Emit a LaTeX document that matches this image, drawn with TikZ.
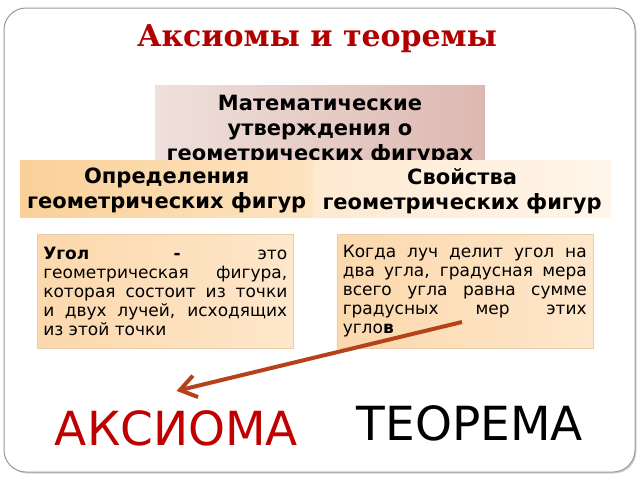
\documentclass[tikz,border=0pt]{standalone}
\usepackage{fontspec}
\setmainfont{DejaVu Sans}
\newfontfamily\titlefont{DejaVu Serif}
\usepackage{xcolor}
\definecolor{titlered}{RGB}{178,0,0}
\definecolor{wordred}{RGB}{192,0,0}
\definecolor{roselight}{RGB}{239,224,219}
\definecolor{rosedark}{RGB}{221,184,177}
\definecolor{peachdark}{RGB}{250,208,152}
\definecolor{peachlight}{RGB}{253,228,194}
\definecolor{creamdark}{RGB}{254,233,209}
\definecolor{creamlight}{RGB}{255,245,234}
\definecolor{notedark}{RGB}{252,216,172}
\definecolor{notelight}{RGB}{254,231,203}
\definecolor{noteedge}{RGB}{232,205,170}
\definecolor{raybrown}{RGB}{181,66,26}
\usetikzlibrary{positioning,arrows.meta,shadows}
\hyphenpenalty=10000

\begin{document}
\begin{tikzpicture}[x=1pt,y=-1pt,
	slide/.style={draw=black!40, line width=1pt, rounded corners=22pt, fill=white,
		drop shadow={opacity=0.35, shadow xshift=1.5pt, shadow yshift=-1.5pt}},
	headbox/.style={rectangle, inner xsep=2pt, align=center,
		font=\bfseries\fontsize{21}{25}\selectfont},
	notebox/.style={rectangle, draw=noteedge, line width=0.5pt,
		left color=notedark, right color=notelight,
		minimum width=256pt, minimum height=114pt, text width=244pt, inner xsep=6pt,
		align=justify, font=\fontsize{17}{19}\selectfont},
	bigword/.style={inner sep=2pt, font=\fontsize{47}{56}\selectfont},
	rayarrow/.style={draw=raybrown, line width=4pt,
		-{Straight Barb[length=16pt,width=22pt]}}
	]
	\useasboundingbox (0,0) rectangle (640,480);
	\path[slide] (4,8) rectangle (635,472);

	\node[anchor=base, text=titlered, font=\titlefont\bfseries\fontsize{30}{35}\selectfont]
		(title) at (317,46) {Аксиомы и теоремы};

	% general statement box, partly hidden by the two boxes below
	\node[headbox, anchor=north, inner ysep=10pt, text width=326pt,
		left color=roselight, right color=rosedark]
		(claims) at (320,85) {Математические\\утверждения о\\геометрических фигурах};

	\node[headbox, anchor=north west, minimum width=293pt, minimum height=57pt,
		text depth=0pt, left color=peachdark, right color=peachlight]
		(defs) at (20,160) {Определения\\геометрических фигур};
	\node[headbox, right=0pt of defs, minimum width=297pt, minimum height=57pt,
		text depth=0pt, left color=creamdark, right color=creamlight]
		(props) {Свойства\\геометрических фигур};

	\node[notebox, anchor=north west] (angle) at (37,234)
		{\textbf{Угол -} это\linebreak геометрическая фигура,\linebreak которая состоит из точки\linebreak и двух лучей, исходящих\linebreak из этой точки};
	\node[notebox, right=43pt of angle] (bisect)
		{Когда луч делит угол на\linebreak два угла, градусная мера\linebreak всего угла равна сумме\linebreak градусных мер этих\linebreak угло\textbf{в}};

	\node[bigword, anchor=base, text=wordred] (axiom) at (176.5,445) {АКСИОМА};
	\node[bigword, anchor=base] (theorem) at (470,440) {ТЕОРЕМА};

	\coordinate (raystart) at (462,322);
	\draw[rayarrow] (raystart) -- ([yshift=17pt]axiom.north);
\end{tikzpicture}
\end{document}
